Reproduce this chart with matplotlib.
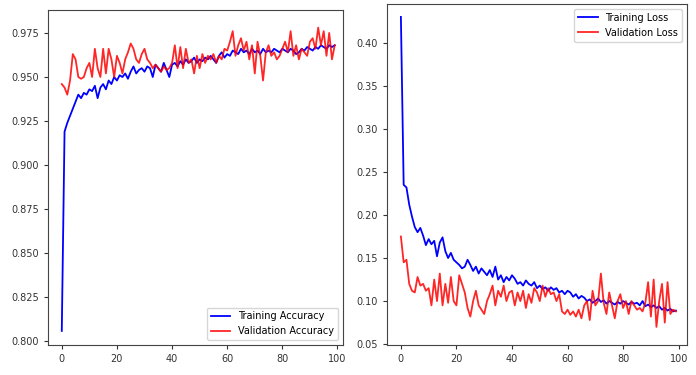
import matplotlib
matplotlib.use("Agg")
import matplotlib.pyplot as plt

# values
epochs = list(range(100))

train_acc = [
    0.806, 0.919, 0.924, 0.928, 0.932, 0.936, 0.940, 0.938, 0.941, 0.940,
    0.943, 0.942, 0.945, 0.938, 0.944, 0.946, 0.943, 0.948, 0.946, 0.950,
    0.948, 0.951, 0.950, 0.952, 0.949, 0.953, 0.956, 0.952, 0.954, 0.955,
    0.953, 0.956, 0.955, 0.950, 0.957, 0.955, 0.953, 0.958, 0.954, 0.950,
    0.957, 0.958, 0.956, 0.959, 0.957, 0.960, 0.958, 0.959, 0.961, 0.958,
    0.960, 0.959, 0.961, 0.960, 0.962, 0.960, 0.958, 0.962, 0.964, 0.961,
    0.963, 0.962, 0.965, 0.964, 0.963, 0.966, 0.964, 0.965, 0.963, 0.966,
    0.964, 0.965, 0.963, 0.966, 0.964, 0.965, 0.964, 0.966, 0.965, 0.964,
    0.966, 0.965, 0.964, 0.966, 0.965, 0.963, 0.964, 0.966, 0.965, 0.967,
    0.966, 0.965, 0.967, 0.966, 0.968, 0.967, 0.966, 0.968, 0.967, 0.968,
]
val_acc = [
    0.946, 0.944, 0.940, 0.948, 0.963, 0.960, 0.950, 0.949, 0.950, 0.955,
    0.958, 0.950, 0.966, 0.955, 0.950, 0.966, 0.952, 0.966, 0.960, 0.950,
    0.962, 0.958, 0.952, 0.960, 0.964, 0.969, 0.966, 0.960, 0.958, 0.963,
    0.966, 0.960, 0.958, 0.955, 0.957, 0.955, 0.953, 0.956, 0.954, 0.955,
    0.958, 0.968, 0.955, 0.967, 0.955, 0.966, 0.958, 0.960, 0.952, 0.962,
    0.955, 0.963, 0.958, 0.962, 0.960, 0.963, 0.958, 0.962, 0.960, 0.966,
    0.965, 0.970, 0.976, 0.962, 0.968, 0.972, 0.965, 0.970, 0.960, 0.968,
    0.952, 0.970, 0.962, 0.948, 0.964, 0.968, 0.962, 0.964, 0.960, 0.962,
    0.966, 0.970, 0.964, 0.976, 0.962, 0.968, 0.960, 0.966, 0.964, 0.962,
    0.970, 0.972, 0.966, 0.978, 0.968, 0.976, 0.962, 0.975, 0.960, 0.968,
]
train_loss = [
    0.430, 0.235, 0.232, 0.212, 0.198, 0.186, 0.180, 0.185, 0.176, 0.165,
    0.172, 0.166, 0.170, 0.152, 0.168, 0.174, 0.158, 0.150, 0.156, 0.148,
    0.145, 0.142, 0.138, 0.140, 0.148, 0.142, 0.135, 0.140, 0.132, 0.138,
    0.134, 0.130, 0.136, 0.128, 0.140, 0.125, 0.130, 0.122, 0.128, 0.124,
    0.130, 0.126, 0.120, 0.122, 0.118, 0.124, 0.120, 0.118, 0.122, 0.115,
    0.118, 0.114, 0.116, 0.112, 0.116, 0.113, 0.115, 0.110, 0.112, 0.108,
    0.112, 0.110, 0.105, 0.108, 0.103, 0.106, 0.104, 0.100, 0.102, 0.098,
    0.100, 0.103, 0.099, 0.101, 0.097, 0.100, 0.098, 0.096, 0.099, 0.097,
    0.100, 0.098, 0.096, 0.099, 0.097, 0.098, 0.095, 0.100, 0.094, 0.096,
    0.093, 0.095, 0.092, 0.094, 0.090, 0.092, 0.089, 0.091, 0.088, 0.089,
]
val_loss = [
    0.175, 0.145, 0.148, 0.120, 0.112, 0.110, 0.128, 0.118, 0.120, 0.112,
    0.115, 0.095, 0.125, 0.100, 0.132, 0.095, 0.120, 0.098, 0.128, 0.100,
    0.095, 0.130, 0.120, 0.110, 0.092, 0.082, 0.100, 0.112, 0.095, 0.090,
    0.085, 0.100, 0.108, 0.118, 0.095, 0.112, 0.105, 0.118, 0.100, 0.110,
    0.112, 0.095, 0.110, 0.100, 0.112, 0.092, 0.108, 0.098, 0.115, 0.110,
    0.100, 0.118, 0.105, 0.115, 0.108, 0.110, 0.100, 0.108, 0.088, 0.085,
    0.090, 0.084, 0.088, 0.082, 0.090, 0.080, 0.095, 0.100, 0.078, 0.112,
    0.095, 0.100, 0.132, 0.098, 0.085, 0.110, 0.095, 0.080, 0.100, 0.108,
    0.092, 0.100, 0.085, 0.100, 0.095, 0.090, 0.092, 0.088, 0.098, 0.122,
    0.082, 0.125, 0.070, 0.100, 0.120, 0.075, 0.122, 0.085, 0.090, 0.088,
]

fig = plt.figure(figsize=(6.96, 3.75), dpi=100)

# left panel: accuracy
ax1 = fig.add_axes([48 / 696, 30 / 375, 295 / 696, 335 / 375])
ax1.plot(epochs, train_acc, color='blue', lw=1.3, label='Training Accuracy')
ax1.plot(epochs, val_acc, color='red', lw=1.3, alpha=0.85, label='Validation Accuracy')
ax1.set_xlim(-5, 102)
ax1.set_ylim(0.798, 0.988)
ax1.set_yticks([0.800, 0.825, 0.850, 0.875, 0.900, 0.925, 0.950, 0.975])
ax1.set_xticks([0, 20, 40, 60, 80, 100])
ax1.legend(loc='lower right', fontsize=7)

# right panel: loss
ax2 = fig.add_axes([387 / 696, 30 / 375, 300 / 696, 341 / 375])
ax2.plot(epochs, train_loss, color='blue', lw=1.3, label='Training Loss')
ax2.plot(epochs, val_loss, color='red', lw=1.3, alpha=0.85, label='Validation Loss')
ax2.set_xlim(-5, 103)
ax2.set_ylim(0.049, 0.445)
ax2.set_yticks([0.05, 0.10, 0.15, 0.20, 0.25, 0.30, 0.35, 0.40])
ax2.set_xticks([0, 20, 40, 60, 80, 100])
ax2.legend(loc='upper right', fontsize=7)

for ax in (ax1, ax2):
    ax.tick_params(labelsize=7, length=3, colors='#333333')
    for s in ax.spines.values():
        s.set_color('#444444')

fig.savefig('out.png', dpi=100)
